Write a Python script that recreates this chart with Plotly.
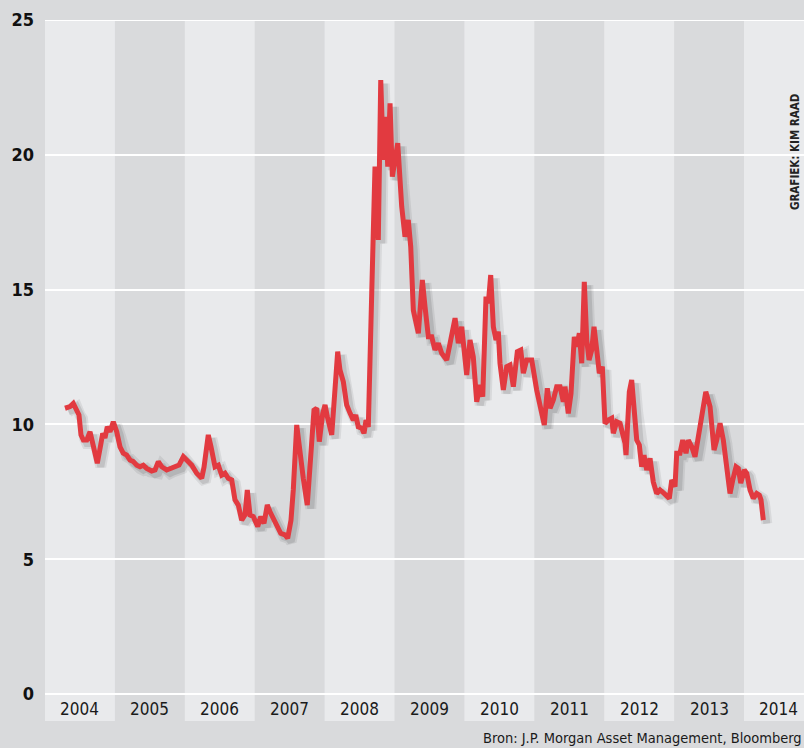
import plotly.graph_objects as go

# Data (decimal year, value)
years = [2004.286, 2004.358, 2004.405, 2004.453, 2004.486, 2004.515, 2004.548, 2004.597, 2004.644, 2004.677,
         2004.715, 2004.748, 2004.797, 2004.825, 2004.858, 2004.891, 2004.930, 2004.977, 2005.026, 2005.073,
         2005.120, 2005.169, 2005.216, 2005.263, 2005.312, 2005.359, 2005.406, 2005.455, 2005.526, 2005.574,
         2005.621, 2005.670, 2005.741, 2005.788, 2005.860, 2005.917, 2005.979, 2006.027, 2006.099, 2006.170,
         2006.217, 2006.242, 2006.275, 2006.336, 2006.375, 2006.432, 2006.479, 2006.528, 2006.575, 2006.622,
         2006.671, 2006.718, 2006.765, 2006.814, 2006.861, 2006.894, 2006.933, 2006.980, 2007.043, 2007.086,
         2007.133, 2007.180, 2007.219, 2007.266, 2007.323, 2007.372, 2007.433, 2007.472, 2007.519, 2007.552,
         2007.601, 2007.648, 2007.695, 2007.752, 2007.791, 2007.830, 2007.848, 2007.887, 2007.924, 2007.973,
         2008.006, 2008.039, 2008.102, 2008.187, 2008.220, 2008.268, 2008.316, 2008.363, 2008.410, 2008.445,
         2008.482, 2008.531, 2008.564, 2008.592, 2008.625, 2008.674, 2008.721, 2008.768, 2008.803, 2008.840,
         2008.874, 2008.903, 2008.936, 2008.969, 2009.007, 2009.046, 2009.079, 2009.103, 2009.150, 2009.197,
         2009.232, 2009.269, 2009.341, 2009.398, 2009.436, 2009.484, 2009.532, 2009.579, 2009.627, 2009.675,
         2009.747, 2009.818, 2009.866, 2009.913, 2009.961, 2010.033, 2010.080, 2010.127, 2010.176, 2010.223,
         2010.262, 2010.309, 2010.342, 2010.376, 2010.414, 2010.452, 2010.485, 2010.509, 2010.557, 2010.605,
         2010.652, 2010.700, 2010.757, 2010.806, 2010.843, 2010.891, 2010.963, 2011.034, 2011.096, 2011.143,
         2011.186, 2011.225, 2011.272, 2011.320, 2011.368, 2011.415, 2011.439, 2011.486, 2011.525, 2011.572,
         2011.607, 2011.644, 2011.678, 2011.715, 2011.750, 2011.783, 2011.821, 2011.854, 2011.893, 2011.930,
         2011.973, 2012.011, 2012.059, 2012.107, 2012.130, 2012.179, 2012.226, 2012.298, 2012.312, 2012.359,
         2012.393, 2012.431, 2012.465, 2012.502, 2012.536, 2012.569, 2012.608, 2012.655, 2012.702, 2012.751,
         2012.798, 2012.856, 2012.931, 2012.966, 2013.013, 2013.037, 2013.084, 2013.123, 2013.170, 2013.203,
         2013.252, 2013.299, 2013.371, 2013.453, 2013.514, 2013.571, 2013.609, 2013.657, 2013.704, 2013.753,
         2013.800, 2013.839, 2013.886, 2013.918, 2013.953, 2014.004, 2014.039, 2014.086, 2014.133, 2014.182,
         2014.219, 2014.243, 2014.276]
values = [10.60, 10.66, 10.78, 10.47, 10.35, 9.61, 9.42, 9.42, 9.73, 9.36,
          8.99, 8.56, 9.24, 9.67, 9.50, 9.91, 9.73, 10.10, 9.73, 9.17,
          8.93, 8.86, 8.68, 8.62, 8.49, 8.43, 8.49, 8.37, 8.27, 8.31,
          8.62, 8.43, 8.31, 8.37, 8.43, 8.49, 8.80, 8.68, 8.49, 8.19,
          8.06, 8.00, 8.42, 9.61, 9.17, 8.43, 8.49, 8.12, 8.19, 8.00,
          7.94, 7.20, 7.01, 6.45, 6.64, 7.57, 6.64, 6.58, 6.21, 6.58,
          6.33, 7.01, 6.76, 6.52, 6.21, 5.96, 5.90, 5.78, 6.45, 7.57,
          9.98, 8.80, 8.00, 7.01, 8.56, 10.35, 10.53, 10.60, 9.36, 10.41,
          10.72, 10.29, 9.61, 12.70, 12.02, 11.58, 10.72, 10.42, 10.16, 10.35,
          9.91, 9.86, 9.67, 10.16, 9.91, 14.86, 19.56, 16.84, 22.77, 19.81,
          21.41, 19.56, 21.91, 19.19, 19.81, 20.43, 19.07, 18.08, 16.96, 17.58,
          16.59, 14.24, 13.38, 15.36, 14.37, 13.25, 13.25, 12.76, 13.01, 12.64,
          12.39, 13.32, 13.94, 13.01, 13.62, 11.83, 13.13, 12.51, 10.84, 11.46,
          11.03, 14.74, 14.49, 15.54, 13.62, 13.13, 13.44, 12.27, 11.28, 12.14,
          12.20, 11.40, 12.70, 12.76, 11.90, 12.39, 12.39, 11.28, 10.41, 9.98,
          11.34, 10.60, 10.91, 11.40, 11.40, 10.84, 11.40, 10.41, 11.15, 13.25,
          12.88, 13.38, 12.27, 15.29, 13.13, 12.39, 12.76, 13.62, 12.76, 11.90,
          12.14, 10.04, 10.16, 10.23, 9.67, 10.10, 10.04, 9.30, 8.86, 11.21,
          11.65, 10.53, 9.42, 9.24, 8.43, 8.86, 8.31, 8.74, 7.87, 7.44,
          7.57, 7.44, 7.26, 7.94, 7.69, 8.93, 8.93, 9.42, 8.93, 9.42,
          9.17, 8.80, 9.91, 11.21, 10.66, 9.05, 9.42, 10.04, 9.42, 8.56,
          7.44, 7.94, 8.43, 8.37, 7.82, 8.31, 8.19, 7.57, 7.26, 7.44,
          7.38, 7.20, 6.45]

year_labels = ["2004", "2005", "2006", "2007", "2008", "2009", "2010", "2011", "2012", "2013", "2014"]
y_ticks = [0, 5, 10, 15, 20, 25]

BG_DARK = "#d9dadc"
BG_LIGHT = "#e9eaec"
RED = "#e23a40"
FONT = "DejaVu Sans Condensed, DejaVu Sans, sans-serif"

x_start = int(year_labels[0])
x_end = 2014.858

fig = go.Figure()

# soft drop shadow under the line
shadow_dx, shadow_dy = 0.05, -0.13
fig.add_trace(go.Scatter(
    x=[x + shadow_dx for x in years], y=[v + shadow_dy for v in values],
    mode="lines", line=dict(color="rgba(0,0,0,0.07)", width=11),
    hoverinfo="skip", showlegend=False))
fig.add_trace(go.Scatter(
    x=[x + shadow_dx for x in years], y=[v + shadow_dy for v in values],
    mode="lines", line=dict(color="rgba(0,0,0,0.10)", width=7),
    hoverinfo="skip", showlegend=False))

fig.add_trace(go.Scatter(
    x=years, y=values, mode="lines",
    line=dict(color=RED, width=5),
    showlegend=False))

# alternating year bands
for i, lab in enumerate(year_labels):
    y0 = int(lab)
    if i % 2 == 0:
        fig.add_shape(type="rect", xref="x", yref="paper", x0=y0, x1=y0 + 1, y0=0, y1=1,
                      fillcolor=BG_LIGHT, line=dict(width=0), layer="below")
    fig.add_annotation(x=y0 + 0.5, y=-0.55, xref="x", yref="y", text=lab, showarrow=False,
                       font=dict(family=FONT, size=17, color="#1a1a1a"), yanchor="middle")

# top gridline at the range edge
fig.add_shape(type="line", xref="paper", yref="y", x0=0, x1=1, y0=y_ticks[-1], y1=y_ticks[-1],
              line=dict(color="#ffffff", width=2), layer="between")

fig.add_annotation(x=1.0, y=-0.01, xref="paper", yref="paper", yanchor="top",
                   xanchor="right", text="Bron: J.P. Morgan Asset Management, Bloomberg",
                   showarrow=False, font=dict(family=FONT, size=14.5, color="#1a1a1a"))
fig.add_annotation(x=1.0, y=20.1, xref="paper", yref="y", xanchor="right",
                   text="<b>GRAFIEK: KIM RAAD</b>",
                   textangle=-90, showarrow=False,
                   font=dict(family=FONT, size=11.5, color="#222222"))

fig.update_layout(
    width=804, height=748,
    margin=dict(l=45, r=0, t=20, b=27),
    paper_bgcolor=BG_DARK, plot_bgcolor=BG_DARK,
    xaxis=dict(range=[x_start, x_end], showgrid=False, zeroline=False, showticklabels=False,
               ticks="", fixedrange=True),
    yaxis=dict(range=[-1.0, 25], tickvals=y_ticks, ticktext=[f"<b>{t}</b>" for t in y_ticks],
               showgrid=True, gridcolor="#ffffff", gridwidth=1.5, zeroline=False, ticks="",
               ticklabelstandoff=10,
               tickfont=dict(family=FONT, size=18, color="#111111")),
    font=dict(family=FONT),
)

fig.write_html("out.html", config={"displayModeBar": False},
               post_script="document.body.style.margin='0';document.body.style.overflow='hidden';")
